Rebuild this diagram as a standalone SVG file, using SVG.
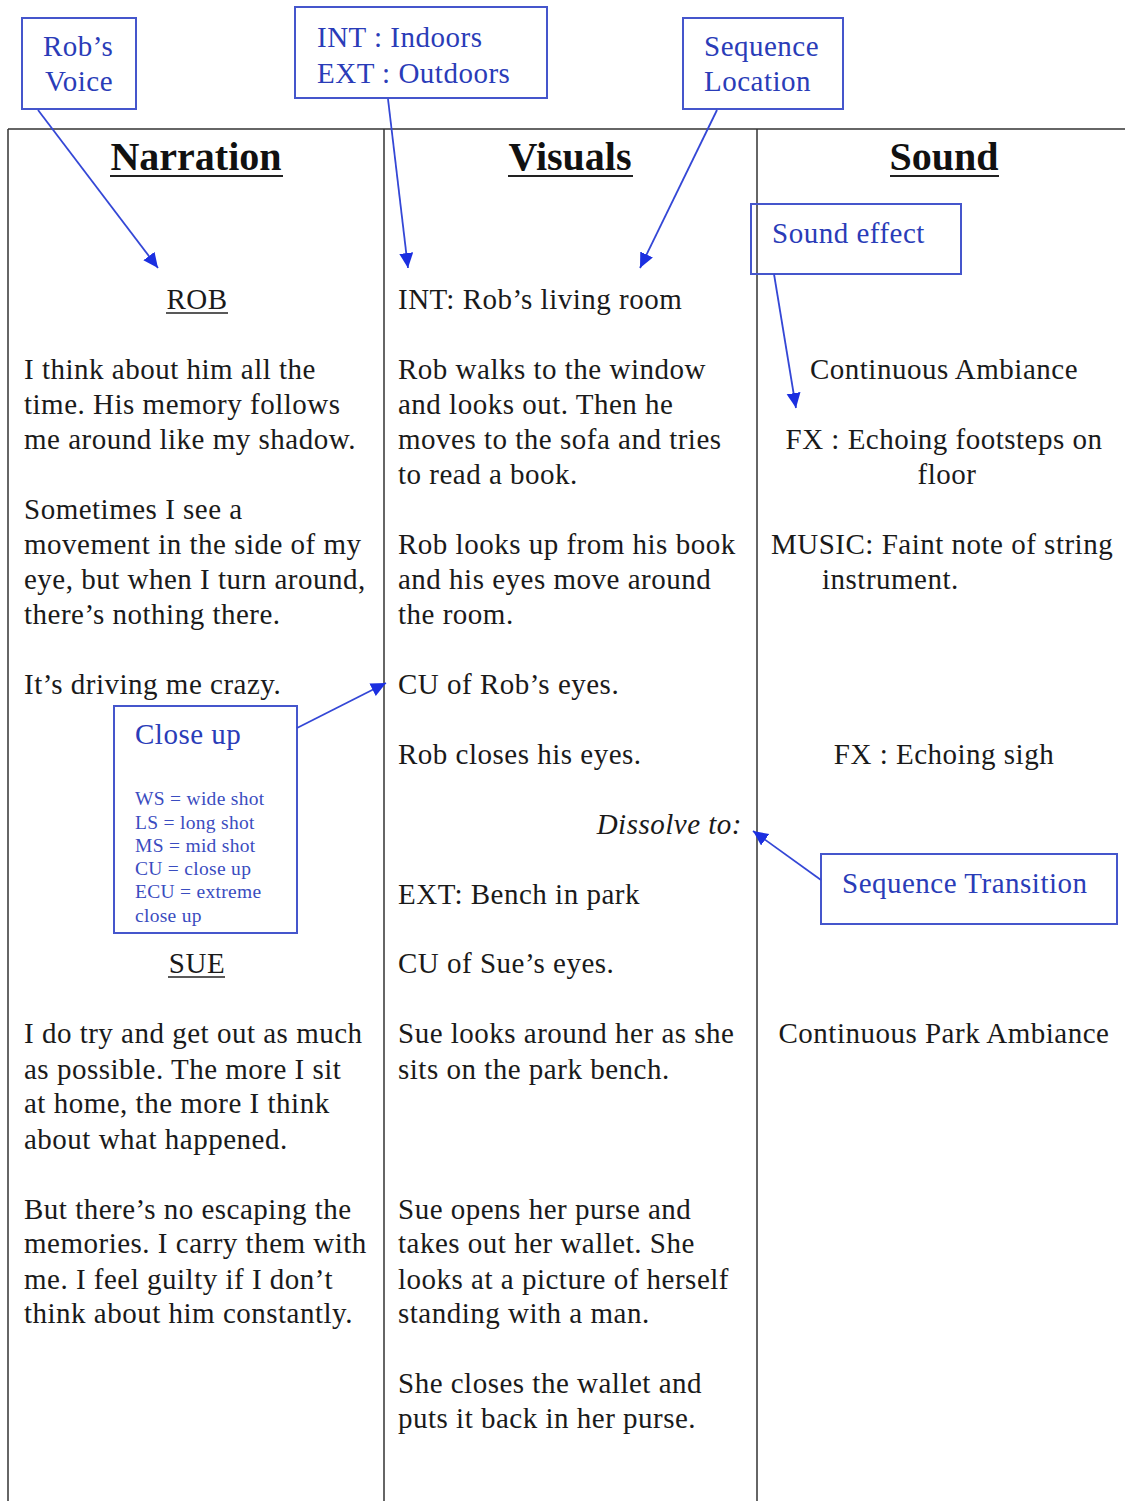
<svg xmlns="http://www.w3.org/2000/svg" width="1125" height="1501" viewBox="0 0 1125 1501">
<style>
.t{font-family:"Liberation Serif","Times New Roman",serif;font-size:29px;letter-spacing:0.5px;fill:#1a1a1a}
.h{font-family:"Liberation Serif","Times New Roman",serif;font-size:40px;font-weight:bold;fill:#111;text-anchor:middle}
.c{text-anchor:middle}
.b{font-family:"Liberation Serif","Times New Roman",serif;font-size:29px;letter-spacing:0.5px;fill:#2a3cb8}
.s{font-family:"Liberation Serif","Times New Roman",serif;font-size:19.5px;letter-spacing:0.3px;fill:#3a4cc0}
.box{fill:none;stroke:#4556cc;stroke-width:2}
.rule{stroke:#333;stroke-width:1.5;fill:none}
.ul{stroke:#222;stroke-width:2}
.arr{stroke:#3447d6;stroke-width:1.8;fill:none;marker-end:url(#ah)}
</style>
<defs>
<marker id="ah" markerUnits="userSpaceOnUse" markerWidth="18" markerHeight="16" refX="15" refY="7" orient="auto">
<path d="M0,0 L15,7 L0,14 z" fill="#1b2fe0"/>
</marker>
</defs>
<rect width="1125" height="1501" fill="#fff"/>
<g id="table">
<line class="rule" x1="8" y1="129" x2="1125" y2="129"/>
<line class="rule" x1="8" y1="129" x2="8" y2="1501"/>
<line class="rule" x1="384" y1="129" x2="384" y2="1501"/>
<line class="rule" x1="757" y1="129" x2="757" y2="1501"/>
<text class="h" x="196" y="170">Narration</text>
<line class="ul" x1="110" y1="176" x2="283" y2="176"/>
<text class="h" x="570" y="170">Visuals</text>
<line class="ul" x1="508" y1="176" x2="633" y2="176"/>
<text class="h" x="944" y="170">Sound</text>
<line class="ul" x1="890" y1="176" x2="999" y2="176"/>
</g>
<g id="narration">
<text class="t c" x="197" y="309">ROB</text>
<line stroke="#222" stroke-width="1.3" x1="166" y1="313" x2="228" y2="313"/>
<text class="t" x="24" y="379">I think about him all the</text>
<text class="t" x="24" y="414">time. His memory follows</text>
<text class="t" x="24" y="449">me around like my shadow.</text>
<text class="t" x="24" y="519">Sometimes I see a</text>
<text class="t" x="24" y="554">movement in the side of my</text>
<text class="t" x="24" y="589">eye, but when I turn around,</text>
<text class="t" x="24" y="624">there’s nothing there.</text>
<text class="t" x="24" y="694">It’s driving me crazy.</text>
<text class="t c" x="197" y="973">SUE</text>
<line stroke="#222" stroke-width="1.3" x1="168" y1="977" x2="225" y2="977"/>
<text class="t" x="24" y="1043">I do try and get out as much</text>
<text class="t" x="24" y="1079">as possible. The more I sit</text>
<text class="t" x="24" y="1113">at home, the more I think</text>
<text class="t" x="24" y="1149">about what happened.</text>
<text class="t" x="24" y="1219">But there’s no escaping the</text>
<text class="t" x="24" y="1253">memories. I carry them with</text>
<text class="t" x="24" y="1289">me. I feel guilty if I don’t</text>
<text class="t" x="24" y="1323">think about him constantly.</text>
</g>
<g id="visuals">
<text class="t" x="398" y="309">INT: Rob’s living room</text>
<text class="t" x="398" y="379">Rob walks to the window</text>
<text class="t" x="398" y="414">and looks out. Then he</text>
<text class="t" x="398" y="449">moves to the sofa and tries</text>
<text class="t" x="398" y="484">to read a book.</text>
<text class="t" x="398" y="554">Rob looks up from his book</text>
<text class="t" x="398" y="589">and his eyes move around</text>
<text class="t" x="398" y="624">the room.</text>
<text class="t" x="398" y="694">CU of Rob’s eyes.</text>
<text class="t" x="398" y="764">Rob closes his eyes.</text>
<text class="t" x="742" y="834" text-anchor="end" font-style="italic">Dissolve to:</text>
<text class="t" x="398" y="904">EXT: Bench in park</text>
<text class="t" x="398" y="973">CU of Sue’s eyes.</text>
<text class="t" x="398" y="1043">Sue looks around her as she</text>
<text class="t" x="398" y="1079">sits on the park bench.</text>
<text class="t" x="398" y="1219">Sue opens her purse and</text>
<text class="t" x="398" y="1253">takes out her wallet. She</text>
<text class="t" x="398" y="1289">looks at a picture of herself</text>
<text class="t" x="398" y="1323">standing with a man.</text>
<text class="t" x="398" y="1393">She closes the wallet and</text>
<text class="t" x="398" y="1428">puts it back in her purse.</text>
</g>
<g id="sound">
<text class="t c" x="944" y="379">Continuous Ambiance</text>
<text class="t c" x="944" y="449">FX : Echoing footsteps on</text>
<text class="t c" x="947" y="484">floor</text>
<text class="t" x="771" y="554">MUSIC: Faint note of string</text>
<text class="t" x="822" y="589">instrument.</text>
<text class="t c" x="944" y="764">FX : Echoing sigh</text>
<text class="t c" x="944" y="1043">Continuous Park Ambiance</text>
</g>
<g id="robs-voice">
<rect class="box" x="22" y="18" width="114" height="91"/>
<text class="b" x="43" y="56">Rob’s</text>
<text class="b" x="45" y="91">Voice</text>
</g>
<g id="int-ext">
<rect class="box" x="295" y="7" width="252" height="91"/>
<text class="b" x="317" y="47">INT : Indoors</text>
<text class="b" x="317" y="83">EXT : Outdoors</text>
</g>
<g id="sequence-location">
<rect class="box" x="683" y="18" width="160" height="91"/>
<text class="b" x="704" y="56">Sequence</text>
<text class="b" x="704" y="91">Location</text>
</g>
<g id="sound-effect">
<rect class="box" x="751" y="204" width="210" height="70"/>
<text class="b" x="772" y="243">Sound effect</text>
</g>
<g id="close-up">
<rect class="box" x="114" y="706" width="183" height="227"/>
<text class="b" x="135" y="744" font-size="30px">Close up</text>
<text class="s" x="135" y="805">WS = wide shot</text>
<text class="s" x="135" y="829">LS = long shot</text>
<text class="s" x="135" y="852">MS = mid shot</text>
<text class="s" x="135" y="875">CU = close up</text>
<text class="s" x="135" y="898">ECU = extreme</text>
<text class="s" x="135" y="922">close up</text>
</g>
<g id="sequence-transition">
<rect class="box" x="821" y="854" width="296" height="70"/>
<text class="b" x="842" y="893">Sequence Transition</text>
</g>
<g id="connectors">
<line class="arr" x1="38" y1="110" x2="158" y2="268"/>
<line class="arr" x1="388" y1="99" x2="408" y2="268"/>
<line class="arr" x1="717" y1="110" x2="640" y2="268"/>
<line class="arr" x1="774" y1="274" x2="796" y2="408"/>
<line class="arr" x1="297" y1="728" x2="386" y2="683"/>
<line class="arr" x1="821" y1="880" x2="753" y2="831"/>
</g>
</svg>
